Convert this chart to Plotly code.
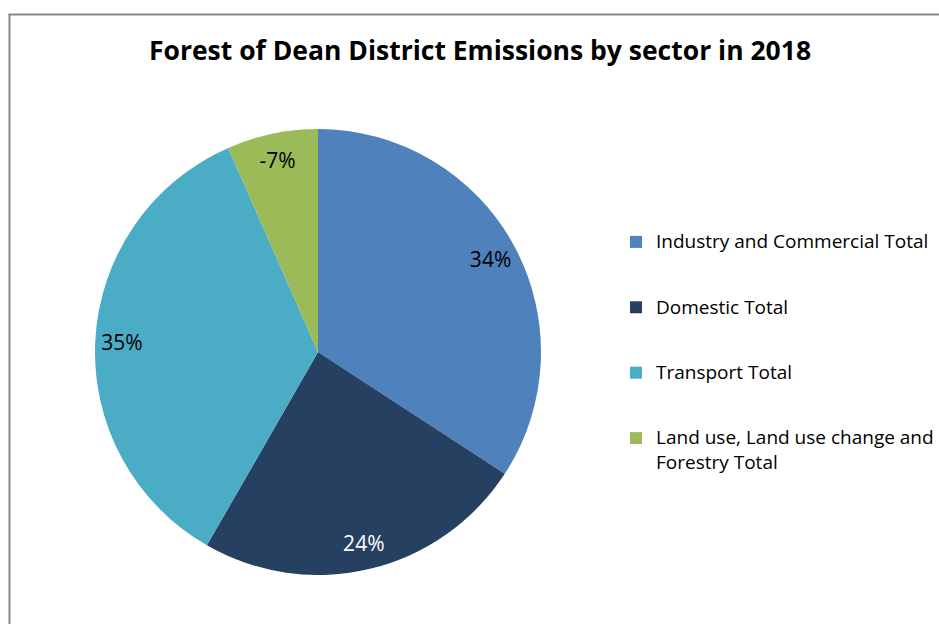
import plotly.graph_objects as go

# Data
sectors = [
    "Industry and Commercial Total",
    "Domestic Total",
    "Transport Total",
    "Land use, Land use change and|Forestry Total",
]
share_pct = [34.2, 24.1, 35.1, -6.6]   # signed share of emissions (%)
colors = ["#4F81BD", "#264061", "#4BACC6", "#9BBB59"]
label_colors = ["#000000", "#FFFFFF", "#000000", "#000000"]

W, H = 939, 624
FONT = "'Open Sans', 'Noto Sans', sans-serif"

slice_sizes = [abs(v) for v in share_pct]
slice_text = [f"{round(v)}%" for v in share_pct]


def legend_label(name, pad_lines):
    parts = name.split("|")
    out = f"<span style='font-size:19px'>{parts[0]}</span>"
    for p in parts[1:]:
        # wrapped line dropped slightly for looser line spacing
        out += f"<br><span style='font-size:19px;baseline-shift:-4px'>{p}</span>"
    return out + "<br> " * pad_lines


legend_names = [legend_label(s, 2 if i < 3 else 0) for i, s in enumerate(sectors)]

domain = dict(x=[95 / W, 541 / W], y=[1 - 576 / H, 1 - 128 / H])

fig = go.Figure()
# the solid pie
fig.add_trace(go.Pie(
    labels=legend_names,
    values=slice_sizes,
    textinfo="none",
    marker=dict(colors=colors, line=dict(width=0)),
    sort=False,
    direction="clockwise",
    rotation=0,
    hoverinfo="skip",
    domain=domain,
))
# transparent ring carrying the percentage labels near the rim
fig.add_trace(go.Pie(
    labels=legend_names,
    values=slice_sizes,
    text=slice_text,
    textinfo="text",
    textposition="inside",
    insidetextorientation="horizontal",
    textfont=dict(family=FONT, size=21, color=label_colors),
    marker=dict(colors=["rgba(0,0,0,0)"] * 4, line=dict(width=0)),
    hole=0.76,
    sort=False,
    direction="clockwise",
    rotation=0,
    hoverinfo="skip",
    showlegend=False,
    domain=domain,
))

fig.update_layout(
    width=W,
    height=H,
    margin=dict(l=0, r=0, t=0, b=0),
    paper_bgcolor="white",
    plot_bgcolor="white",
    font=dict(family=FONT, color="#000000"),
    title=dict(
        text="<b>Forest of Dean District Emissions by sector in 2018</b>",
        x=480 / W,
        xanchor="center",
        y=1 - 51 / H,
        yanchor="middle",
        font=dict(size=26.5, family=FONT, color="#000000"),
    ),
    legend=dict(
        x=616 / W,
        xanchor="left",
        y=1 - 225 / H,
        yanchor="top",
        valign="top",
        font=dict(size=16, family=FONT, color="#000000"),
        bgcolor="rgba(0,0,0,0)",
    ),
    shapes=[
        dict(type="line", xref="paper", yref="paper",
             x0=9.5 / W, x1=9.5 / W, y0=0, y1=1 - 14 / H,
             line=dict(color="#878787", width=2)),
        dict(type="line", xref="paper", yref="paper",
             x0=8.5 / W, x1=1, y0=1 - 14.5 / H, y1=1 - 14.5 / H,
             line=dict(color="#878787", width=2)),
    ],
)

fig.write_html(
    "out.html",
    config={"displayModeBar": False},
    post_script="document.body.style.margin='0px';",
)
